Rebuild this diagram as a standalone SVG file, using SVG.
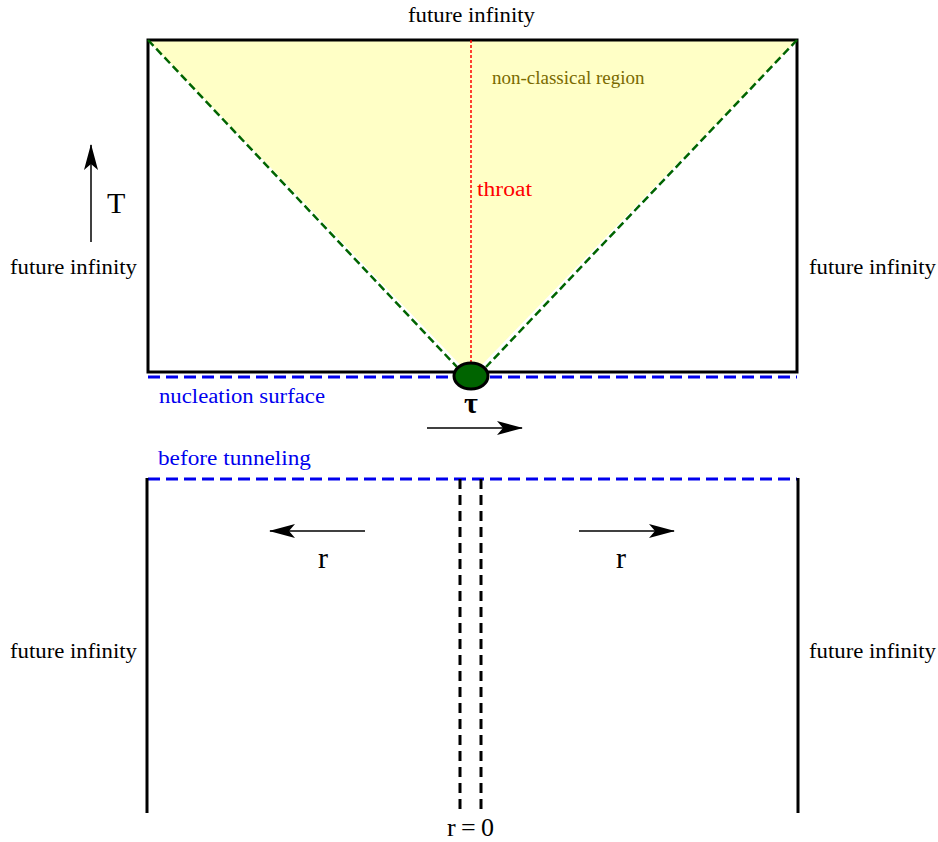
<svg xmlns="http://www.w3.org/2000/svg" width="938" height="842" viewBox="0 0 938 842">
<style>
text{font-family:"Liberation Serif","DejaVu Serif",serif;fill:#000}
.lbl{font-size:20px}
.blue{fill:#0000ee;font-size:20px}
.border{stroke:#000;stroke-width:3;fill:none}
.bdash{stroke:#0000ee;stroke-width:3;stroke-dasharray:12,6;fill:none}
.gdash{stroke:#006400;stroke-width:2.5;stroke-dasharray:8,4;fill:none}
.kdash{stroke:#000;stroke-width:3;stroke-dasharray:10,6;fill:none}
.arr{stroke:#000;stroke-width:1.5;fill:none;marker-end:url(#ah)}
</style>
<defs>
<marker id="ah" viewBox="0 0 26 14" refX="25" refY="7" markerWidth="26" markerHeight="14" markerUnits="userSpaceOnUse" orient="auto">
<path d="M0,0 L26,7 L0,14 L6,7 Z" fill="#000"/>
</marker>
</defs>
<rect width="938" height="842" fill="#fff"/>
<g id="upper-region">
<polygon points="148,40 797,40 471,376" fill="#ffffc6"/>
<rect x="148" y="40" width="649" height="332" class="border"/>
<line x1="148" y1="40" x2="457" y2="367" class="gdash"/>
<line x1="797" y1="40" x2="486" y2="367" class="gdash"/>
<line x1="471" y1="40" x2="471" y2="364" stroke="#ff0000" stroke-width="1.5" stroke-dasharray="3,2"/>
</g>
<g id="nucleation-surface">
<line x1="148" y1="377" x2="797" y2="377" class="bdash"/>
</g>
<g id="nucleation-point">
<ellipse cx="471" cy="376" rx="17" ry="13" fill="#006400" stroke="#000" stroke-width="3"/>
</g>
<g id="lower-region">
<line x1="148" y1="479" x2="797" y2="479" class="bdash"/>
<line x1="147" y1="478" x2="147" y2="813" class="border"/>
<line x1="798" y1="478" x2="798" y2="813" class="border"/>
<line x1="460" y1="479" x2="460" y2="812" class="kdash"/>
<line x1="481" y1="479" x2="481" y2="812" class="kdash"/>
</g>
<g id="connectors">
<line x1="91" y1="242" x2="91" y2="145" class="arr"/>
<line x1="427" y1="428" x2="522" y2="428" class="arr"/>
<line x1="365" y1="531" x2="270" y2="531" class="arr"/>
<line x1="579" y1="531" x2="674" y2="531" class="arr"/>
</g>
<g id="labels">
<text x="408" y="22" class="lbl" textLength="127" lengthAdjust="spacingAndGlyphs">future infinity</text>
<text x="10" y="274" class="lbl" textLength="127" lengthAdjust="spacingAndGlyphs">future infinity</text>
<text x="809" y="274" class="lbl" textLength="127" lengthAdjust="spacingAndGlyphs">future infinity</text>
<text x="10" y="658" class="lbl" textLength="127" lengthAdjust="spacingAndGlyphs">future infinity</text>
<text x="809" y="658" class="lbl" textLength="127" lengthAdjust="spacingAndGlyphs">future infinity</text>
<text x="492" y="84" style="font-size:19px;fill:#7a6a00">non-classical region</text>
<text x="477" y="196" class="lbl" style="fill:#ff0000" textLength="55" lengthAdjust="spacingAndGlyphs">throat</text>
<text x="159" y="403" class="blue" textLength="166" lengthAdjust="spacingAndGlyphs">nucleation surface</text>
<text x="158" y="465" class="blue" textLength="153" lengthAdjust="spacingAndGlyphs">before tunneling</text>
<text x="107" y="213" style="font-size:30px">T</text>
<text x="471" y="413" text-anchor="middle" style="font-size:30px;font-weight:bold">τ</text>
<text x="323" y="568" text-anchor="middle" style="font-size:30px">r</text>
<text x="621" y="568" text-anchor="middle" style="font-size:30px">r</text>
<text y="836" style="font-size:26px"><tspan x="447">r</tspan><tspan x="461">=</tspan><tspan x="481">0</tspan></text>
</g>
</svg>
